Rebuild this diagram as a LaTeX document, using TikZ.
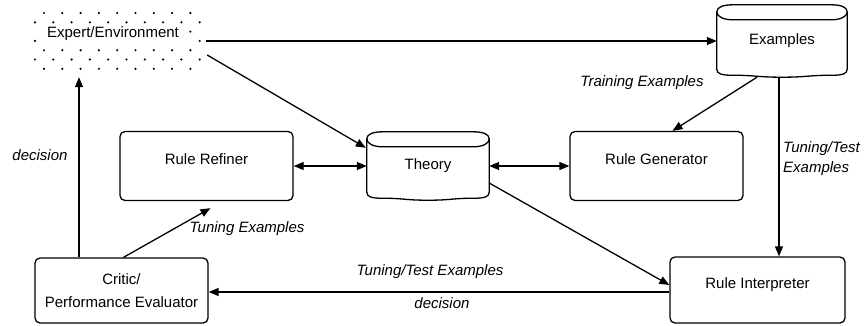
\documentclass[tikz,border=0pt]{standalone}
\usepackage{fontspec}
\setmainfont{Liberation Sans}
\usetikzlibrary{arrows.meta,calc}
\newcommand\cylout[1]{%
 \draw[plain,line join=round] ($(#1.north west)+(0,7)$) .. controls +(0,-5) and +(-9,0) .. ($(#1.north west)+(16,0)$) -- ($(#1.north east)+(-16,0)$) .. controls +(9,0) and +(0,-5) .. ($(#1.north east)+(0,7)$) -- ($(#1.south east)+(0,-8)$) .. controls +(0,5) and +(8,0) .. ($(#1.south east)+(-14,-2)$) .. controls +(-25,0) and +(25,0) .. ($(#1.south)+(0,0)$) .. controls +(-25,0) and +(25,0) .. ($(#1.south west)+(14,-2)$) .. controls +(-8,0) and +(0,5) .. ($(#1.south west)+(0,-8)$) -- cycle;
 \draw[plain] ($(#1.north west)+(0,7)$) .. controls +(0,5) and +(-9,0) .. ($(#1.north west)+(16,15)$) -- ($(#1.north east)+(-16,15)$) .. controls +(9,0) and +(0,5) .. ($(#1.north east)+(0,7)$);
}
\begin{document}
\begin{tikzpicture}[x=1pt,y=-1pt,
 every node/.style={font=\fontsize{15}{18}\selectfont},
 box/.style={draw,line width=1.3pt,rounded corners=5pt,minimum width=173pt,minimum height=69pt,inner sep=0pt},
 region/.style={inner sep=0pt},
 lbl/.style={font=\fontsize{15}{18}\selectfont\itshape,inner sep=1pt},
 plain/.style={line width=1.3pt},
 conn/.style={line width=1.3pt,-{Triangle[length=10pt,width=8pt]}},
 biconn/.style={line width=1.3pt,{Triangle[length=10pt,width=8pt]}-{Triangle[length=10pt,width=8pt]}}]
\useasboundingbox (0,0) rectangle (868,325);

% Expert / Environment dotted region
\node[region,minimum width=165pt,minimum height=56pt] (expert) at (117.5,41) {};
\foreach \k in {0,...,6}{%
  \ifodd\k
    \foreach \j in {0,...,9}{\fill[black] (35+18.3*\j,13+9.3*\k) circle (1.2);}
  \else
    \foreach \j in {0,...,8}{\fill[black] (44+18.3*\j,13+9.3*\k) circle (1.2);}
  \fi}
\fill[white] (40,26) rectangle (187,46);
\node (expertlabel) at (113,34) {Expert/Environment};

% cylinders
\node[region,minimum width=130pt,minimum height=72pt] (examples) at (782,41) {Examples};
\cylout{examples}
\node[region,minimum width=122pt,minimum height=68pt] (theory) at (428,166) {Theory};
\cylout{theory}

% boxes
\node[box] (refiner) at (206.5,166) {\raisebox{14pt}{Rule Refiner}};
\node[box] (generator) at (656.5,166) {\raisebox{14pt}{Rule Generator}};
\node[box,minimum width=175pt,minimum height=66pt] (interp) at (757.5,290) {\raisebox{14pt}{Rule Interpreter}};
\node[box,minimum height=65pt,align=center,font=\fontsize{15}{23}\selectfont] (critic) at (121.5,290.5) {Critic/\\Performance Evaluator};

% connectors
\draw[conn] ($(expert.east)+(6,0)$) -- (examples.west);
\draw[conn] ($(expert.east)+(7,14)$) -- ($(theory.north west)+(-1,16)$);
\draw[biconn] (refiner.east) -- (theory.west);
\draw[biconn] (theory.east) -- (generator.west);
\draw[conn] ($(examples.south)+(-25,0)$) -- ($(generator.north)+(16,0)$);
\coordinate (exdown) at ($(examples.south)+(-3,0)$);
\draw[conn] (exdown) -- (exdown |- interp.north);
\draw[conn] ($(theory.east)+(0,17)$) -- ($(interp.west)+(0,-5)$);
\draw[conn] ($(interp.west)+(0,2)$) -- ($(critic.east)+(0,1.5)$);
\draw[conn] ($(critic.north)+(2,0)$) -- ($(refiner.south)+(4,7)$);
\coordinate (cup) at ($(critic.north)+(-42.5,0)$);
\draw[conn] (cup) -- ($(cup |- expert.south)+(0,8)$);

% labels
\node[lbl] (lbltrain) at (642,83) {Training Examples};
\node[lbl,anchor=west,align=left,font=\fontsize{15}{20}\selectfont\itshape] (lbltt) at (782,159) {Tuning/Test\\Examples};
\node[lbl] (lbltune) at (247,229) {Tuning Examples};
\node[lbl] (lblttex) at (430,272) {Tuning/Test Examples};
\node[lbl] (lbldec) at (442,303) {decision};
\node[lbl] (lbldec2) at (40,155) {decision};
\end{tikzpicture}
\end{document}
